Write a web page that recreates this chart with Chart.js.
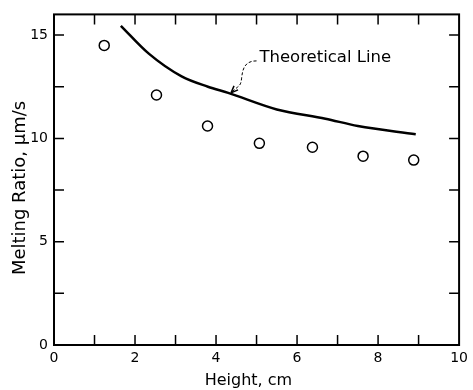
<!DOCTYPE html>
<html>
<head>
<meta charset="utf-8">
<script src="https://cdn.jsdelivr.net/npm/chart.js@4/dist/chart.umd.min.js"></script>
<style>
html,body{margin:0;padding:0;background:#fff;}
#wrap{width:473px;height:390px;position:relative;}
</style>
</head>
<body>
<div id="wrap"><canvas id="c" width="473" height="390"></canvas></div>
<script>
// Measured data (Height, cm vs Melting Ratio, µm/s)
const measuredHeight = [1.24, 2.53, 3.79, 5.07, 6.38, 7.63, 8.88];
const measuredRatio  = [14.5, 12.1, 10.6, 9.76, 9.57, 9.14, 8.95];
// Theoretical line
const theoryHeight = [1.65, 2.34, 3.15, 3.8, 4.3, 5.5, 6.7, 7.5, 8.93];
const theoryRatio  = [15.45, 14.1, 13.0, 12.5, 12.2, 11.4, 10.95, 10.6, 10.2];
// Axis ticks
const xLabelTicks = [0, 2, 4, 6, 8, 10];
const yLabelTicks = [0, 5, 10, 15];
const xTitle = 'Height, cm';
const yTitle = 'Melting Ratio, \u03bcm/s';
const annotationText = "Theoretical Line";

const FONT = "'DejaVu Sans', sans-serif";

const boxAndTicks = {
  id: 'boxAndTicks',
  afterDraw(chart) {
    const {ctx, chartArea: a, scales: {x, y}} = chart;
    ctx.save();
    ctx.strokeStyle = '#000';
    ctx.lineWidth = 2;
    ctx.strokeRect(a.left, a.top, a.right - a.left, a.bottom - a.top);
    ctx.lineWidth = 1.5;
    const L = 10;
    x.ticks.forEach(t => {
      const px = x.getPixelForValue(t.value);
      if (t.value <= x.min || t.value >= x.max) return;
      ctx.beginPath();
      ctx.moveTo(px, a.bottom); ctx.lineTo(px, a.bottom - L);
      ctx.moveTo(px, a.top); ctx.lineTo(px, a.top + L);
      ctx.stroke();
    });
    y.ticks.forEach(t => {
      const py = y.getPixelForValue(t.value);
      if (t.value <= y.min || t.value >= y.max) return;
      ctx.beginPath();
      ctx.moveTo(a.left, py); ctx.lineTo(a.left + L, py);
      ctx.moveTo(a.right, py); ctx.lineTo(a.right - L, py);
      ctx.stroke();
    });
    ctx.fillStyle = '#000';
    // axis titles
    ctx.textAlign = 'center';
    ctx.textBaseline = 'middle';
    ctx.font = '16px ' + FONT;
    ctx.fillText(xTitle, x.getPixelForValue(4.8), 381);
    ctx.save();
    ctx.translate(20, y.getPixelForValue(7.6));
    ctx.rotate(-Math.PI / 2);
    ctx.font = '18px ' + FONT;
    ctx.fillText(yTitle, 0, 0);
    ctx.restore();
    // annotation
    const tx = x.getPixelForValue(5.07), ty = y.getPixelForValue(13.9);
    ctx.font = '16.5px ' + FONT;
    ctx.textAlign = 'left';
    ctx.fillText(annotationText, tx, ty);
    // leader (dashed) to the curve
    const sx = x.getPixelForValue(5.0), sy = y.getPixelForValue(13.75);
    const ex = x.getPixelForValue(4.37), ey = y.getPixelForValue(12.2);
    ctx.setLineDash([3, 2]);
    ctx.lineWidth = 1;
    ctx.beginPath();
    ctx.moveTo(sx, sy);
    ctx.bezierCurveTo(sx - 12, sy, sx - 14, sy + 8, sx - 15, sy + 18);
    ctx.bezierCurveTo(sx - 16, sy + 26, ex + 8, ey - 8, ex, ey);
    ctx.stroke();
    ctx.setLineDash([]);
    // arrowhead
    ctx.beginPath();
    ctx.moveTo(ex, ey);
    ctx.lineTo(ex + 3, ey - 7);
    ctx.moveTo(ex, ey);
    ctx.lineTo(ex + 7, ey - 3);
    ctx.lineWidth = 1.5;
    ctx.stroke();
    ctx.restore();
  }
};

new Chart(document.getElementById('c'), {
  type: 'scatter',
  data: {
    datasets: [
      {
        label: 'Theoretical',
        data: theoryHeight.map((h, i) => ({x: h, y: theoryRatio[i]})),
        showLine: true,
        borderColor: '#000',
        borderWidth: 2.5,
        pointRadius: 0,
        cubicInterpolationMode: 'monotone',
        fill: false
      },
      {
        label: 'Measured',
        data: measuredHeight.map((h, i) => ({x: h, y: measuredRatio[i]})),
        showLine: false,
        pointRadius: 5,
        pointBorderWidth: 1.5,
        pointBorderColor: '#000',
        pointBackgroundColor: '#fff'
      }
    ]
  },
  options: {
    responsive: false,
    animation: false,
    layout: {padding: {top: 10, right: 9, left: 0, bottom: 0}},
    plugins: {legend: {display: false}, tooltip: {enabled: false}},
    scales: {
      x: {
        type: 'linear', min: 0, max: 10,
        afterFit(s) { s.height = 45; },
        grid: {display: false, drawTicks: false},
        border: {display: false},
        ticks: {
          stepSize: 1, padding: 5, color: '#000', maxRotation: 0, autoSkip: false,
          font: {family: FONT, size: 14},
          callback: v => xLabelTicks.includes(v) ? String(v) : ''
        },
        title: {display: false}
      },
      y: {
        type: 'linear', min: 0, max: 16,
        afterFit(s) { s.width = 54; },
        grid: {display: false, drawTicks: false},
        border: {display: false},
        ticks: {
          stepSize: 2.5, includeBounds: false, padding: 6, color: '#000', autoSkip: false,
          font: {family: FONT, size: 14},
          callback: v => yLabelTicks.includes(v) ? String(v) : ''
        },
        title: {display: false}
      }
    }
  },
  plugins: [boxAndTicks]
});
</script>
</body>
</html>
